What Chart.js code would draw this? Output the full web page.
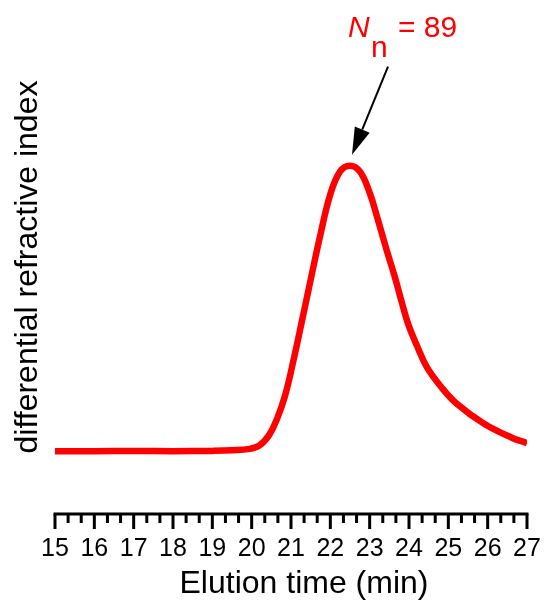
<!DOCTYPE html>
<html>
<head>
<meta charset="utf-8">
<title>Elution chart</title>
<script src="https://cdn.jsdelivr.net/npm/chart.js@4"></script>
<style>
  body { margin: 0; background: #fff; }
  canvas { display: block; }
</style>
</head>
<body>
<canvas id="chart" width="544" height="604"></canvas>
<script>
// Elution time (min) and detector signal
const times = [15, 16, 17, 18, 19, 19.5, 19.95, 20.2, 20.45, 20.65, 20.85, 21.05, 21.3, 21.53, 21.75,
               22.0, 22.25, 22.5, 22.75, 23.0, 23.2, 23.43, 23.64, 23.81, 23.98, 24.2, 24.45, 24.8,
               25.2, 25.9, 26.6, 27.0];
const signal = [0, 0, 0.1, 0, 0.1, 0.3, 0.8, 2.0, 5.8, 11.5, 19.5, 31, 47, 62, 76,
                90, 98, 100, 98, 90.5, 81.5, 70.5, 61, 52.5, 44.5, 37, 29.5, 22.8,
                16.8, 9.7, 4.8, 2.8];
const majorTicks = [15, 16, 17, 18, 19, 20, 21, 22, 23, 24, 25, 26, 27];
const peakTime = 22.5;
const peakValue = 100;
const peakLabel = { main: 'N', sub: 'n', rest: '= 89' };
const xTitle = 'Elution time (min)';

const FONT = '"Liberation Sans", Arial, sans-serif';

// axis line, major/minor tick marks and the x title
const axisTicks = {
    id: 'axisTicks',
    afterDraw(chart) {
        const ctx = chart.ctx;
        const x = chart.scales.x;
        const y0 = chart.chartArea.bottom;
        ctx.save();
        ctx.strokeStyle = '#000';
        ctx.lineWidth = 3;
        ctx.lineCap = 'butt';
        ctx.beginPath();
        ctx.moveTo(x.getPixelForValue(15) - 1.5, y0);
        ctx.lineTo(x.getPixelForValue(27) + 1.5, y0);
        ctx.stroke();
        majorTicks.forEach((t, i) => {
            const px = x.getPixelForValue(t);
            ctx.beginPath();
            ctx.moveTo(px, y0);
            ctx.lineTo(px, y0 + 15);
            ctx.stroke();
            if (i < majorTicks.length - 1) {
                for (let k = 1; k < 3; k++) {
                    const mx = x.getPixelForValue(t + k / 3);
                    ctx.beginPath();
                    ctx.moveTo(mx, y0);
                    ctx.lineTo(mx, y0 + 9);
                    ctx.stroke();
                }
            }
        });

        ctx.fillStyle = '#000';
        ctx.font = '32px ' + FONT;
        ctx.textAlign = 'center';
        ctx.textBaseline = 'alphabetic';
        ctx.fillText(xTitle, (x.left + x.right) / 2 + 13, 593);
        ctx.restore();
    }
};

// "Nn = 89" label with arrow pointing at the peak
const peakNote = {
    id: 'peakNote',
    afterDatasetsDraw(chart) {
        const ctx = chart.ctx;
        const px = chart.scales.x.getPixelForValue(peakTime);
        const py = chart.scales.y.getPixelForValue(peakValue);
        const tipX = px + 2, tipY = py - 11;
        const tailX = tipX + 36, tailY = tipY - 88;
        const ang = Math.atan2(tipY - tailY, tipX - tailX);
        const headLen = 27, headW = 8;
        const bx = tipX - headLen * Math.cos(ang), by = tipY - headLen * Math.sin(ang);

        ctx.save();
        ctx.strokeStyle = '#000';
        ctx.fillStyle = '#000';
        ctx.lineWidth = 2;
        ctx.beginPath();
        ctx.moveTo(tailX, tailY);
        ctx.lineTo(bx, by);
        ctx.stroke();
        ctx.beginPath();
        ctx.moveTo(tipX, tipY);
        ctx.lineTo(bx + headW * Math.sin(ang), by - headW * Math.cos(ang));
        ctx.lineTo(bx - headW * Math.sin(ang), by + headW * Math.cos(ang));
        ctx.closePath();
        ctx.fill();

        ctx.fillStyle = '#ff0000';
        ctx.textBaseline = 'alphabetic';
        ctx.textAlign = 'left';
        ctx.font = 'italic 30px ' + FONT;
        ctx.fillText(peakLabel.main, px - 2, 37);
        ctx.font = '30px ' + FONT;
        ctx.fillText(peakLabel.sub, px + 21, 57);
        ctx.fillText(peakLabel.rest, px + 48, 37);
        ctx.restore();
    }
};

new Chart(document.getElementById('chart'), {
    type: 'line',
    data: {
        datasets: [{
            data: times.map((t, i) => ({ x: t, y: signal[i] })),
            borderColor: '#ff0000',
            borderWidth: 6.5,
            pointRadius: 0,
            tension: 0.4,
            fill: false
        }]
    },
    options: {
        responsive: false,
        animation: false,
        devicePixelRatio: 1,
        layout: { padding: { top: 20, right: 17, bottom: 0, left: 0 } },
        plugins: { legend: { display: false }, tooltip: { enabled: false } },
        scales: {
            x: {
                type: 'linear',
                min: 15,
                max: 27,
                afterBuildTicks: (scale) => { scale.ticks = majorTicks.map(v => ({ value: v })); },
                afterFit: (scale) => {
                    scale.height = 90;
                    scale.paddingLeft = 0;
                    scale.paddingRight = 0;
                },
                grid: { display: false, drawTicks: false },
                border: { display: false },
                ticks: {
                    color: '#000',
                    padding: 20,
                    maxRotation: 0,
                    autoSkip: false,
                    font: { family: FONT, size: 25 }
                },
                title: { display: false }
            },
            y: {
                min: -22,
                max: 151,
                afterFit: (scale) => {
                    scale.width = 55;
                    scale.paddingTop = 0;
                    scale.paddingBottom = 0;
                },
                grid: { display: false, drawTicks: false },
                border: { display: false },
                ticks: { display: false },
                title: {
                    display: true,
                    text: 'differential refractive index',
                    color: '#000',
                    padding: { top: 9, bottom: 0 },
                    font: { family: FONT, size: 32 }
                }
            }
        }
    },
    plugins: [axisTicks, peakNote]
});
</script>
</body>
</html>
